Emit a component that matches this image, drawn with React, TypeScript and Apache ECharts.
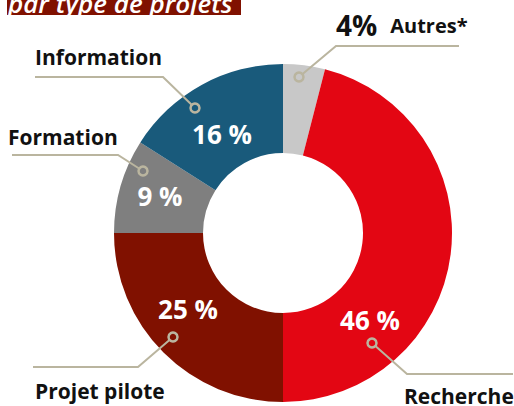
import React, { useEffect, useRef } from "react";
import * as echarts from "echarts";

// ---- data ----
const categories = ["Autres*", "Recherche", "Projet pilote", "Formation", "Information"];
const shares = [4, 46, 25, 9, 16];
const titleText = "par type de projets";

// ---- styles / layout (not data) ----
const sliceColors = ["#c8c8c8", "#e30613", "#801100", "#7f7f7f", "#195a7b"];
const leaderColor = "#bab59f";
const FONT = "'Open Sans', Lato, sans-serif";
const CENTER: [number, number] = [283, 233];
const RADII: [number, number] = [80, 169];
// centre positions of the in-slice percentage labels
const pctPos: ([number, number] | null)[] = [null, [370, 320], [188, 309], [160, 196], [222, 134]];
// left/middle anchor of the name labels
const namePos: [number, number][] = [[336, 25], [404, 396], [35, 391], [8, 137], [35, 57]];
// leader lines: ring point, elbow, end
const leaders: [number, number][][] = [
  [[299, 77], [336, 46], [459, 46]],
  [[372, 343], [407, 374], [513, 374]],
  [[173, 337], [138, 367], [33, 367]],
  [[143, 171], [118, 155], [12, 155]],
  [[195, 108], [163, 77], [35, 77]],
];

export default function App() {
  const ref = useRef<HTMLDivElement>(null);
  useEffect(() => {
    if (!ref.current) return;
    const chart = echarts.init(ref.current, null, { renderer: "svg" });
    const data = categories.map((name, i) => ({
      name,
      value: shares[i],
      itemStyle: { color: sliceColors[i] },
    }));
    const graphics: any[] = [
      {
        type: "rect",
        shape: { x: 7, y: -20, width: 234, height: 35 },
        style: { fill: "#801100" },
        z: 100,
      },
      {
        type: "text",
        x: 8,
        y: 3,
        style: {
          text: titleText,
          fill: "#ffffff",
          font: `italic 600 26px ${FONT}`,
          align: "left",
          verticalAlign: "middle",
        },
        z: 101,
      },
    ];
    leaders.forEach((pts, i) => {
      graphics.push({
        type: "polyline",
        shape: { points: pts },
        style: { stroke: leaderColor, lineWidth: 2, fill: null },
        z: 100,
      });
      graphics.push({
        type: "circle",
        shape: { cx: pts[0][0], cy: pts[0][1], r: 4.5 },
        style: { stroke: leaderColor, lineWidth: 2.5, fill: sliceColors[i] },
        z: 101,
      });
    });

    chart.setOption({
      animation: false,
      graphic: graphics,
      series: [
        {
          type: "pie",
          center: CENTER,
          radius: RADII,
          startAngle: 90,
          clockwise: true,
          silent: true,
          data: data.map((d, i) => (i === 0 ? { ...d, label: { show: false } } : d)),
          label: {
            show: true,
            position: "inside",
            formatter: (p: any) => `${p.value} %`,
            color: "#ffffff",
            fontFamily: FONT,
            fontWeight: "bold",
            fontSize: 26,
          },
          labelLayout: (p: any) => {
            const pos = pctPos[p.dataIndex];
            if (!pos) return {};
            return { x: pos[0], y: pos[1], align: "center", verticalAlign: "middle" };
          },
          labelLine: { show: false },
          emphasis: { disabled: true },
        },
        {
          type: "pie",
          center: CENTER,
          radius: RADII,
          startAngle: 90,
          clockwise: true,
          silent: true,
          z: 3,
          data: categories.map((name, i) => ({ name, value: shares[i] })),
          itemStyle: { color: "rgba(0,0,0,0)" },
          label: {
            show: true,
            position: "outside",
            overflow: "none",
            width: 300,
            formatter: (p: any) =>
              p.dataIndex === 0 ? `{v|${p.value}%}{n|${p.name}}` : `{m|${p.name}}`,
            rich: {
              v: { fontFamily: FONT, fontWeight: "bold", fontSize: 28, color: "#111111" },
              n: {
                fontFamily: FONT,
                fontWeight: "bold",
                fontSize: 20,
                color: "#111111",
                padding: [0, 0, 0, 13],
              },
              m: { fontFamily: FONT, fontWeight: "bold", fontSize: 21, color: "#111111" },
            },
          },
          labelLayout: (p: any) => {
            const pos = namePos[p.dataIndex];
            return { x: pos[0], y: pos[1], align: "left", verticalAlign: "middle" };
          },
          labelLine: { show: false },
          emphasis: { disabled: true },
        },
      ],
    });
    return () => chart.dispose();
  }, []);
  return (
    <div
      ref={ref}
      style={{ position: "fixed", left: 0, top: 0, width: 514, height: 406, background: "#ffffff" }}
    />
  );
}
